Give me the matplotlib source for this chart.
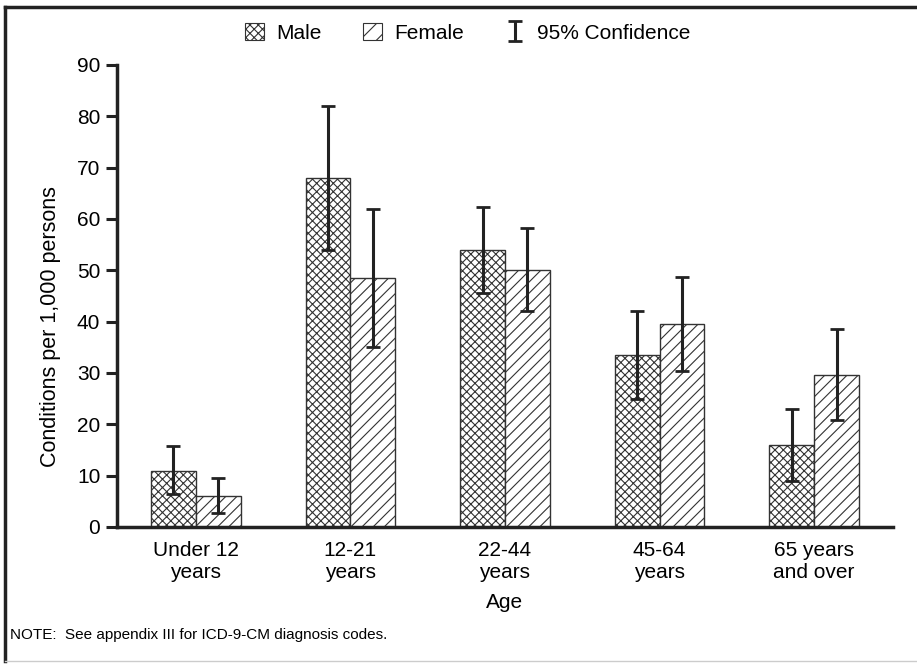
import numpy as np
import matplotlib
matplotlib.use("Agg")
import matplotlib.pyplot as plt
from matplotlib.patches import Patch
from matplotlib.lines import Line2D

plt.rcParams['font.family'] = ['Liberation Sans', 'DejaVu Sans']
plt.rcParams['hatch.linewidth'] = 0.8

# datos
edades = ["Under 12\nyears", "12-21\nyears", "22-44\nyears", "45-64\nyears", "65 years\nand over"]
hombres = [11.0, 68.0, 54.0, 33.5, 16.0]
hombres_lo = [6.5, 54.0, 45.5, 25.0, 9.0]
hombres_hi = [15.8, 82.0, 62.3, 42.0, 23.0]
mujeres = [6.0, 48.5, 50.0, 39.5, 29.7]
mujeres_lo = [2.8, 35.0, 42.0, 30.3, 20.8]
mujeres_hi = [9.5, 62.0, 58.3, 48.7, 38.5]

oscuro = "#222222"

fig = plt.figure(figsize=(9.17, 6.64), dpi=100)
ax = fig.add_axes([117/917, 1 - 527/664, (893 - 117)/917, (527 - 65)/664])

x = np.arange(len(edades))
w = 0.29

ax.bar(x - w/2, hombres, w, color="white", edgecolor="#333333", hatch="xxxx", linewidth=1)
ax.bar(x + w/2, mujeres, w, color="white", edgecolor="#333333", hatch="///", linewidth=1)

yerr_h = [np.array(hombres) - np.array(hombres_lo), np.array(hombres_hi) - np.array(hombres)]
yerr_m = [np.array(mujeres) - np.array(mujeres_lo), np.array(mujeres_hi) - np.array(mujeres)]
eb = ax.errorbar(x - w/2, hombres, yerr=yerr_h, fmt="none", ecolor=oscuro, elinewidth=2.2, capsize=5, capthick=2)
ax.errorbar(x + w/2, mujeres, yerr=yerr_m, fmt="none", ecolor=oscuro, elinewidth=2.2, capsize=5, capthick=2)

ax.set_xlim(-0.51, 4.51)
ax.set_ylim(0, 90)
ax.set_yticks(np.arange(0, 91, 10))
ax.set_xticks(x)
ax.set_xticklabels(edades, fontsize=15, linespacing=1.2)
ax.tick_params(axis="x", length=0, pad=10)
ax.tick_params(axis="y", length=8, width=2.2, color=oscuro, labelsize=15, pad=4)
for s in ["top", "right"]:
    ax.spines[s].set_visible(False)
for s in ["left", "bottom"]:
    ax.spines[s].set_linewidth(2.5)
    ax.spines[s].set_color(oscuro)

ax.set_xlabel("Age", fontsize=15, labelpad=8)
ax.set_ylabel("Conditions per 1,000 persons", fontsize=15.5)
ax.yaxis.set_label_coords(-0.072, 0.433)

# leyenda
handles = [
    Patch(facecolor="white", edgecolor="#333333", hatch="xxxx", linewidth=0.8),
    Patch(facecolor="white", edgecolor="#333333", hatch="//", linewidth=0.8),
    eb,
]
fig.legend(handles, ["Male", "Female", "95% Confidence"], loc="center", bbox_to_anchor=(0.51, 1 - 33/664),
           ncol=3, frameon=False, fontsize=15, handlelength=0.9, handleheight=0.9, columnspacing=2.0, handletextpad=0.6)

fig.text(10/917, 1 - 635/664, "NOTE:  See appendix III for ICD-9-CM diagnosis codes.", fontsize=11, va="center")

# marco
fig.add_artist(Line2D([5/917, 1], [1 - 7/664, 1 - 7/664], color=oscuro, linewidth=2.5))
fig.add_artist(Line2D([5/917, 5/917], [1 - 7/664, 1 - 661/664], color=oscuro, linewidth=2.5))
fig.add_artist(Line2D([5/917, 1], [1 - 661/664, 1 - 661/664], color="#cccccc", linewidth=1))

fig.savefig("out.png", dpi=100)
